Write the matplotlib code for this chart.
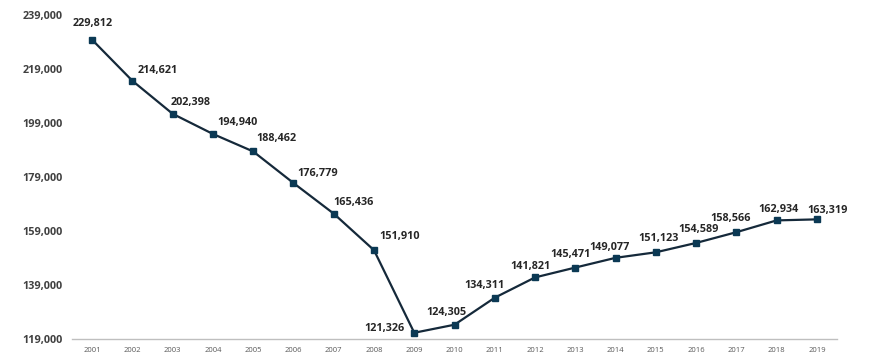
import matplotlib
matplotlib.use("Agg")
import matplotlib.pyplot as plt
import matplotlib.ticker as mticker

years = [str(y) for y in range(2001, 2020)]
values = [229812, 214621, 202398, 194940, 188462, 176779, 165436, 151910,
          121326, 124305, 134311, 141821, 145471, 149077, 151123, 154589,
          158566, 162934, 163319]
yticks = [119000, 139000, 159000, 179000, 199000, 219000, 239000]

# label offsets in pixels (dx, dy, ha) - placement as in the source chart
offsets = [(1, 16, "center"), (5, 10, "left"), (-2, 11, "left"), (4, 11, "left"),
           (3, 13, "left"), (4, 10, "left"), (0, 11, "left"), (5, 14, "left"),
           (-10, 4, "right"), (-8, 12, "center"), (-10, 12, "center"),
           (-5, 11, "center"), (-5, 13, "center"), (-6, 10, "center"),
           (3, 14, "center"), (2, 13, "center"), (-6, 14, "center"),
           (2, 11, "center"), (11, 9, "center")]

plt.rcParams['font.family'] = ['Open Sans', 'DejaVu Sans']

fig = plt.figure(figsize=(8.75, 3.63), dpi=100)
ax = fig.add_axes([0.0823, 0.066, 0.8743, 0.8927])

x = list(range(len(years)))
ax.plot(x, values, color='#15293a', linewidth=1.6, marker='s', markersize=5,
        markerfacecolor='#0b3954', markeredgecolor='#0b3954', zorder=3)

for xi, v, (dx, dy, ha) in zip(x, values, offsets):
    ax.annotate(f"{v:,}", (xi, v), xytext=(dx, dy), textcoords='offset pixels',
                ha=ha, va='center', fontsize=7.8, fontweight='bold', color='#262626')

ax.set_xlim(-0.5, len(years) - 0.5)
ax.set_ylim(yticks[0], yticks[-1])
ax.set_xticks(x)
ax.set_xticklabels(years)
ax.set_yticks(yticks)
ax.yaxis.set_major_formatter(mticker.FuncFormatter(lambda v, p: f"{int(v):,}"))

for s in ['top', 'right', 'left']:
    ax.spines[s].set_visible(False)
ax.spines['bottom'].set_color('#bfbfbf')
ax.spines['bottom'].set_linewidth(1.0)
ax.tick_params(axis='both', length=0)
ax.tick_params(axis='y', pad=7, labelsize=7.8, labelcolor='#404040')
ax.tick_params(axis='x', pad=6, labelsize=5.5, labelcolor='#595959')
for t in ax.get_yticklabels():
    t.set_fontweight('bold')

fig.savefig("out.png", dpi=100)
